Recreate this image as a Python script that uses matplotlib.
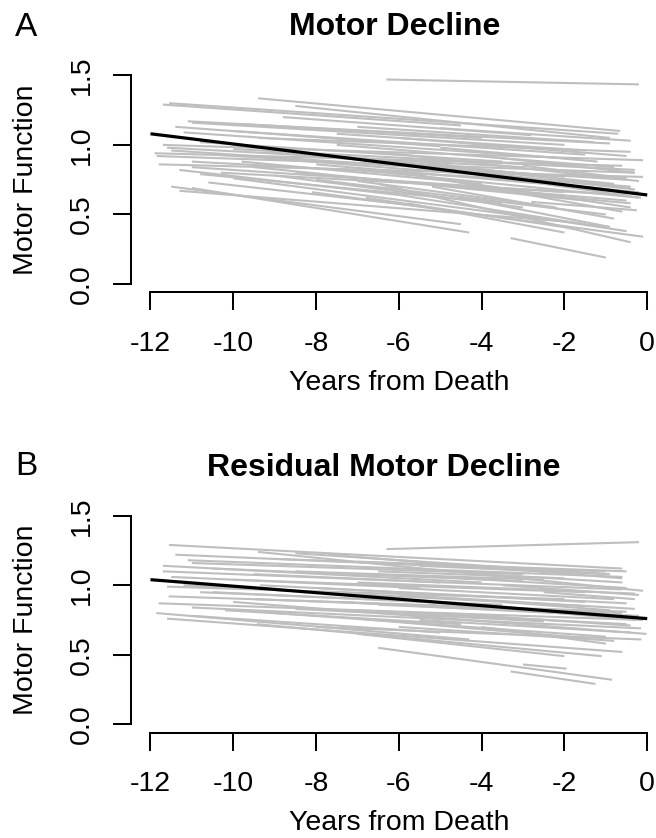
import matplotlib
matplotlib.use("Agg")
import matplotlib.pyplot as plt

plt.rcParams['font.family'] = ['Liberation Sans', 'DejaVu Sans']

# ---------------- data ----------------
years_ticks = [-12, -10, -8, -6, -4, -2, 0]
motor_ticks = [0.0, 0.5, 1.0, 1.5]
motor_tick_labels = ["0.0", "0.5", "1.0", "1.5"]

mean_years = [-12, 0]
mean_motor_A = [1.08, 0.64]
mean_motor_B = [1.04, 0.76]

# individual trajectories, panel A: start year, start value, end year, end value
a_x0 = [-6.3, -9.4, -11.7, -11.55, -8.5, -11.1, -11.0, -11.4, -9.4, -10.0,
        -11.7, -11.6, -11.9, -11.85, -11.5, -10.5, -11.0, -11.8, -9.0, -11.0,
        -10.3, -8.0, -7.0, -11.5, -11.0, -11.3, -8.1, -3.3, -2.8, -10.0,
        -6.0, -9.5, -6.5, -5.5, -7.5, -6.0, -5.0, -10.8, -7.8, -4.0,
        -9.0, -4.5, -10.6, -3.5, -8.8, -7.0, -5.2, -9.8, -2.5, -6.0,
        -11.2, -10.0, -8.5, -7.0, -9.2, -6.5, -5.5, -8.0, -4.0, -10.8,
        -7.5, -5.0, -9.8, -6.8, -4.8, -11.3, -3.0, -7.0, -2.5, -5.8]
a_y0 = [1.47, 1.335, 1.29, 1.30, 1.28, 1.17, 1.16, 1.13, 1.05, 1.10,
        1.00, 0.98, 0.94, 0.92, 0.96, 0.93, 0.88, 0.86, 0.90, 0.84,
        0.80, 0.86, 0.82, 0.70, 0.69, 0.67, 0.66, 0.33, 0.59, 0.76,
        0.80, 0.84, 0.72, 0.78, 1.00, 1.05, 0.98, 1.02, 0.93, 0.92,
        0.78, 0.62, 0.73, 0.75, 1.20, 1.13, 0.70, 0.88, 0.47, 0.64,
        1.09, 0.97, 0.80, 0.90, 0.95, 0.95, 0.88, 0.75, 0.80, 0.79,
        1.08, 1.12, 1.15, 0.62, 0.70, 0.82, 0.85, 0.74, 0.72, 0.58]
a_x1 = [-0.2, -0.65, -4.5, -0.7, -0.9, -0.9, -2.0, -5.0, -0.4, -1.5,
        -0.1, -3.0, -0.6, -0.3, -6.0, -0.5, -1.0, -0.1, -0.4, -2.0,
        -0.5, -0.9, -0.2, -4.5, -4.3, -2.0, -0.1, -1.0, -0.25, -1.0,
        -0.4, -1.5, -0.4, -0.6, -0.8, -0.5, -1.2, -3.5, -2.5, -0.3,
        -3.0, -0.9, -5.5, -0.2, -2.8, -1.3, -0.8, -4.0, -0.5, -1.5,
        -1.8, -0.3, -0.5, -0.8, -2.0, -0.2, -0.4, -1.0, -0.3, -3.5,
        -1.5, -0.4, -4.0, -1.8, -0.4, -6.0, -0.5, -2.2, -0.15, -2.0]
a_y1 = [1.435, 1.10, 1.14, 1.08, 1.05, 1.01, 1.00, 0.99, 0.95, 0.93,
        0.89, 0.84, 0.85, 0.80, 0.85, 0.75, 0.72, 0.77, 0.70, 0.66,
        0.64, 0.68, 0.62, 0.43, 0.37, 0.45, 0.34, 0.19, 0.53, 0.41,
        0.55, 0.60, 0.30, 0.52, 0.84, 0.92, 0.88, 0.88, 0.78, 0.80,
        0.55, 0.41, 0.56, 0.66, 1.07, 1.02, 0.47, 0.72, 0.38, 0.43,
        0.90, 0.82, 0.60, 0.72, 0.77, 0.74, 0.69, 0.50, 0.68, 0.58,
        0.96, 1.03, 1.05, 0.40, 0.58, 0.64, 0.76, 0.55, 0.62, 0.37]

# individual trajectories, panel B (residual)
b_x0 = [-6.3, -11.55, -11.4, -11.1, -9.4, -8.5, -7.7, -11.7, -11.7, -9.35,
        -11.6, -11.5, -11.56, -11.8, -11.86, -11.6, -9.43, -11.0, -10.0, -3.3,
        -3.0, -6.5, -8.0, -7.0, -6.0, -5.0, -8.0, -10.5, -4.5, -10.8,
        -7.5, -9.0, -5.5, -4.0, -9.5, -3.5, -6.5, -10.2, -2.0, -7.0,
        -11.2, -6.0, -11.0, -9.0, -7.0, -8.5, -5.5, -10.0, -7.0, -4.0,
        -9.5, -6.5, -8.5, -5.0, -11.0, -7.0, -3.5, -6.0, -10.5, -2.5]
b_y0 = [1.26, 1.29, 1.22, 1.18, 1.24, 1.23, 1.22, 1.14, 1.10, 1.00,
        0.99, 1.06, 0.92, 0.87, 0.80, 0.76, 0.72, 0.84, 0.88, 0.38,
        0.43, 0.55, 0.70, 0.82, 0.93, 1.06, 0.98, 1.12, 0.86, 0.95,
        0.88, 0.80, 0.75, 0.70, 1.08, 1.00, 1.10, 0.82, 0.82, 0.65,
        1.00, 0.98, 1.16, 1.19, 1.17, 1.10, 1.14, 1.04, 1.02, 1.08,
        0.90, 0.86, 0.83, 0.80, 0.78, 0.76, 0.88, 0.70, 0.95, 0.95]
b_x1 = [-0.2, -0.6, -2.0, -0.6, -0.1, -0.9, -0.6, -4.0, -0.6, -0.5,
        -2.0, -5.5, -0.5, -0.1, -4.3, -0.6, -1.1, -0.15, -0.02, -1.25,
        -1.95, -0.85, -0.14, -0.5, -0.3, -0.5, -1.5, -3.0, -0.6, -3.5,
        -0.9, -1.0, -0.4, -1.0, -5.0, -0.2, -2.0, -4.5, -0.3, -2.0,
        -1.5, -0.8, -3.0, -1.0, -0.5, -2.5, -1.0, -1.5, -0.3, -0.6,
        -0.6, -0.2, -2.5, -0.4, -5.0, -1.5, -0.9, -0.8, -4.0, -0.3]
b_y1 = [1.31, 1.12, 1.10, 1.06, 0.96, 1.08, 1.05, 1.02, 0.97, 0.87,
        0.90, 0.98, 0.81, 0.75, 0.61, 0.52, 0.49, 0.69, 0.65, 0.29,
        0.40, 0.32, 0.61, 0.72, 0.83, 0.98, 0.88, 1.03, 0.76, 0.86,
        0.78, 0.63, 0.66, 0.58, 1.02, 0.93, 1.05, 0.72, 0.75, 0.49,
        0.85, 0.90, 1.08, 1.10, 1.10, 1.04, 1.08, 0.95, 0.94, 1.02,
        0.80, 0.78, 0.74, 0.71, 0.66, 0.62, 0.82, 0.60, 0.86, 0.90]

titles = ["Motor Decline", "Residual Motor Decline"]
panel_letters = ["A", "B"]
xlabel_text = "Years from Death"
ylabel_text = "Motor Function"

# ---------------- figure ----------------
W, H = 656, 838
fig = plt.figure(figsize=(W / 100, H / 100), dpi=100)

GRAY = "#BEBEBE"
FS = 20.5

def px(x):
    return x / W

def py(y):
    return 1 - y / H

ax_left = 130.6
ax_width = 536.5
panels = [
    dict(top=67.0, bottom=292.35, x0=a_x0, y0=a_y0, x1=a_x1, y1=a_y1, mean=mean_motor_A,
         title_xy=(395, 26.7), letter_xy=(26, 27), xlabel_y=383),
    dict(top=507.4, bottom=732.6, x0=b_x0, y0=b_y0, x1=b_x1, y1=b_y1, mean=mean_motor_B,
         title_xy=(384, 468), letter_xy=(26, 466), xlabel_y=823),
]

for i, p in enumerate(panels):
    ax = fig.add_axes([px(ax_left), py(p['bottom']), px(ax_width),
                       (p['bottom'] - p['top']) / H])
    for xs, ys, xe, ye in zip(p['x0'], p['y0'], p['x1'], p['y1']):
        ax.plot([xs, xe], [ys, ye], color=GRAY, lw=1.5, solid_capstyle='butt')
    ax.plot(mean_years, p['mean'], color='black', lw=2.3, solid_capstyle='butt')

    ax.set_xlim(-12.48, 0.48)
    ax.set_ylim(-0.06, 1.56)
    for s in ['top', 'right']:
        ax.spines[s].set_visible(False)
    for s in ['left', 'bottom']:
        ax.spines[s].set_linewidth(1.45)
    ax.spines['left'].set_bounds(0, 1.5)
    ax.spines['bottom'].set_bounds(-12, 0)
    ax.set_xticks(years_ticks)
    ax.set_xticklabels([str(t) for t in years_ticks])
    ax.set_yticks(motor_ticks)
    ax.set_yticklabels(motor_tick_labels, rotation=90, va='center')
    ax.tick_params(axis='both', direction='out', length=13, width=1.45,
                   labelsize=FS, colors='black')
    ax.tick_params(axis='x', pad=15)
    ax.tick_params(axis='y', pad=13)
    ax.set_facecolor('none')

    fig.text(px(p['title_xy'][0]), py(p['title_xy'][1]), titles[i],
             fontsize=23, fontweight='bold', ha='center', va='center')
    fig.text(px(p['letter_xy'][0]), py(p['letter_xy'][1]), panel_letters[i],
             fontsize=24, ha='center', va='center')
    fig.text(px(26), py((p['top'] + p['bottom']) / 2), ylabel_text,
             fontsize=FS, rotation=90, ha='center', va='center')
    fig.text(px(399), py(p['xlabel_y']), xlabel_text,
             fontsize=FS, ha='center', va='center')

fig.savefig("out.png", dpi=100)
